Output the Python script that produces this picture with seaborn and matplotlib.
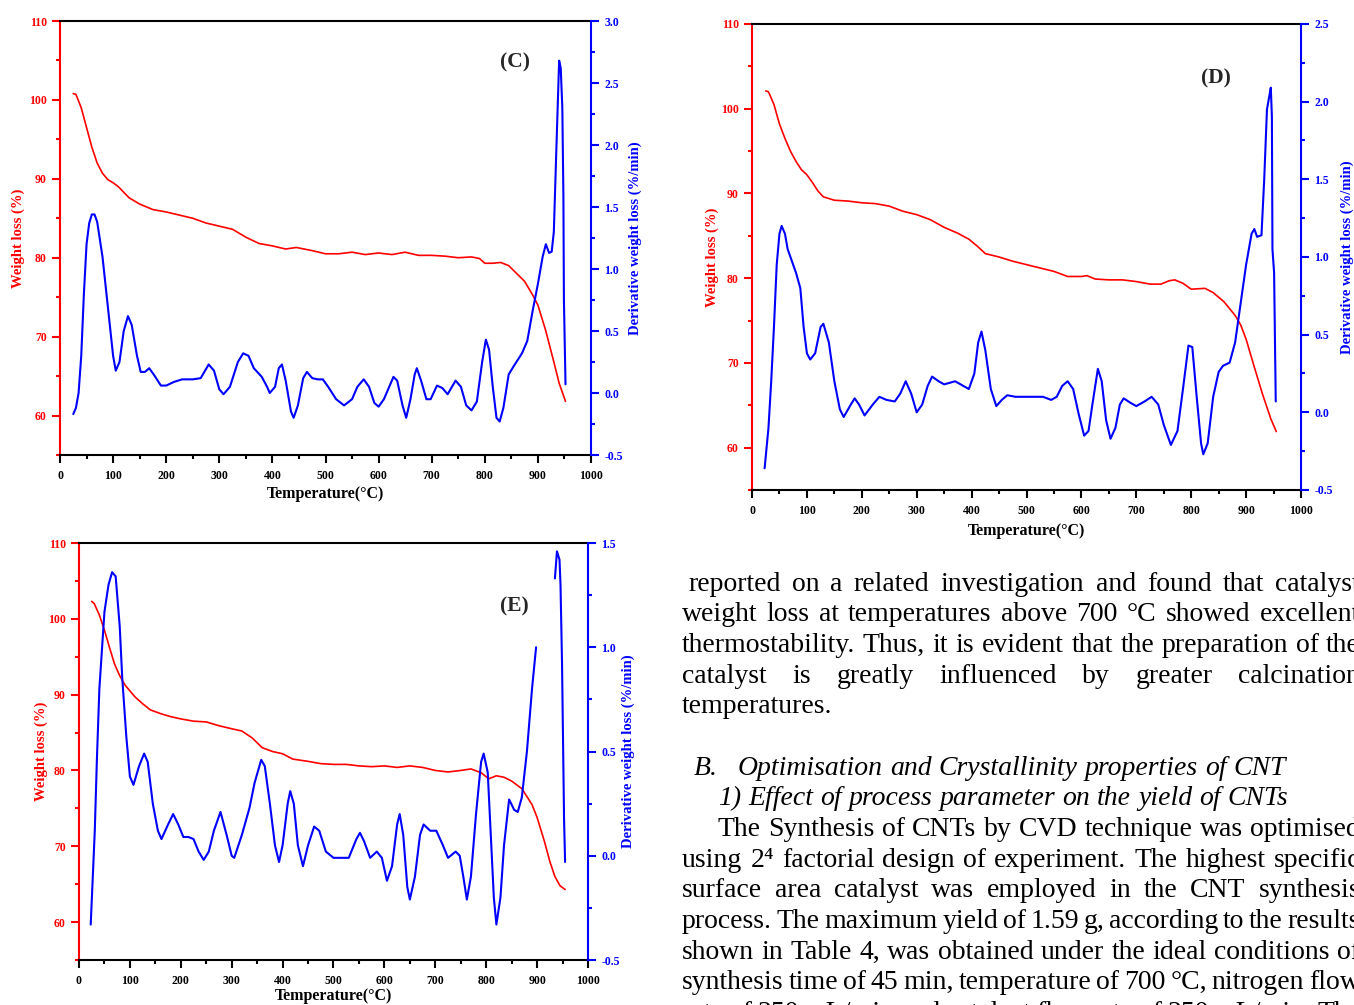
import numpy as np
import pandas as pd
import matplotlib
matplotlib.use("Agg")
import matplotlib.pyplot as plt
import seaborn as sns
from matplotlib.ticker import MultipleLocator

# ---------------- data ----------------
# Panel C
C_T_w = [25, 30, 40, 50, 60, 70, 80, 90, 100, 110,
         120, 130, 150, 175, 200, 225, 250, 275, 300, 325,
         350, 375, 400, 425, 445, 475, 500, 525, 550, 575,
         600, 625, 650, 675, 700, 725, 750, 775, 790, 800,
         815, 830, 845, 860, 875, 890, 900, 915, 930, 940, 952]
C_W = [100.8, 100.7, 99.0, 96.5, 94.0, 92.0, 90.7, 89.9, 89.5, 89.0,
       88.3, 87.6, 86.8, 86.1, 85.8, 85.4, 85.0, 84.4, 84.0, 83.6,
       82.6, 81.8, 81.5, 81.1, 81.3, 80.9, 80.5, 80.5, 80.7, 80.4,
       80.6, 80.4, 80.7, 80.3, 80.3, 80.2, 80.0, 80.1, 79.9, 79.3,
       79.3, 79.4, 79.0, 78.0, 77.0, 75.3, 74.0, 70.7, 66.8, 64.1, 61.8]
C_T_d = [25, 30, 35, 40, 45, 50, 55, 60, 65, 70,
         80, 90, 100, 105, 112, 120, 128, 135, 145, 152,
         160, 168, 178, 190, 200, 215, 230, 250, 265, 280,
         290, 300, 308, 320, 335, 345, 355, 365, 380, 390,
         395, 405, 412, 418, 425, 435, 440, 448, 458, 465,
         475, 485, 495, 505, 520, 535, 550, 560, 572, 582,
         592, 600, 610, 620, 628, 635, 645, 652, 660, 668,
         672, 680, 690, 698, 710, 720, 730, 745, 755, 765,
         775, 785, 795, 802, 808, 815, 822, 828, 835, 845,
         855, 870, 880, 890, 900, 909, 915, 921, 926, 930,
         935, 940, 943, 946, 948, 949, 952]
C_D = [-0.17, -0.12, 0.0, 0.3, 0.8, 1.2, 1.37, 1.44, 1.44, 1.38,
       1.1, 0.7, 0.3, 0.18, 0.25, 0.5, 0.62, 0.55, 0.3, 0.17,
       0.17, 0.2, 0.14, 0.06, 0.06, 0.09, 0.11, 0.11, 0.12, 0.23,
       0.18, 0.03, -0.01, 0.05, 0.25, 0.32, 0.3, 0.2, 0.13, 0.05,
       0.0, 0.05, 0.2, 0.23, 0.1, -0.15, -0.2, -0.1, 0.12, 0.17,
       0.12, 0.11, 0.11, 0.05, -0.05, -0.1, -0.05, 0.05, 0.11, 0.05,
       -0.08, -0.11, -0.05, 0.05, 0.13, 0.1, -0.1, -0.2, -0.05, 0.15,
       0.2, 0.1, -0.05, -0.05, 0.06, 0.04, -0.01, 0.1, 0.05, -0.1,
       -0.14, -0.07, 0.25, 0.43, 0.35, 0.05, -0.2, -0.23, -0.12, 0.15,
       0.22, 0.32, 0.42, 0.66, 0.88, 1.1, 1.2, 1.13, 1.14, 1.3,
       2.0, 2.68, 2.62, 2.3, 1.6, 0.75, 0.07]

# Panel D
D_T_w = [25, 30, 40, 50, 60, 70, 80, 90, 100, 110,
         120, 130, 150, 175, 200, 225, 250, 275, 300, 325,
         350, 375, 395, 410, 425, 450, 475, 500, 525, 550,
         575, 600, 610, 625, 650, 675, 700, 725, 745, 760,
         770, 785, 800, 825, 840, 860, 880, 890, 900, 915,
         930, 945, 955]
D_W = [102.1, 102.0, 100.5, 98.2, 96.5, 95.0, 93.8, 92.8, 92.2, 91.3,
       90.3, 89.6, 89.2, 89.1, 88.9, 88.8, 88.5, 87.9, 87.5, 86.9,
       86.0, 85.3, 84.6, 83.8, 82.9, 82.5, 82.0, 81.6, 81.2, 80.8,
       80.2, 80.2, 80.3, 79.9, 79.8, 79.8, 79.6, 79.3, 79.3, 79.7,
       79.8, 79.4, 78.7, 78.8, 78.3, 77.2, 75.6, 74.5, 72.8, 69.5,
       66.3, 63.4, 61.9]
D_T_d = [23, 30, 35, 40, 45, 50, 54, 60, 65, 70,
         80, 88, 94, 100, 106, 115, 125, 130, 140, 150,
         160, 167, 180, 187, 195, 205, 220, 232, 245, 260,
         270, 280, 290, 300, 310, 320, 328, 340, 350, 370,
         385, 395, 405, 412, 418, 425, 435, 445, 455, 465,
         480, 500, 520, 530, 545, 555, 565, 575, 585, 595,
         605, 613, 620, 630, 637, 645, 653, 662, 670, 677,
         690, 700, 715, 728, 740, 750, 763, 775, 785, 795,
         802, 810, 818, 822, 830, 840, 850, 858, 870, 880,
         890, 900, 910, 915, 920, 928, 933, 938, 942, 945,
         947, 948, 951, 954]
D_D = [-0.36, -0.1, 0.2, 0.55, 0.95, 1.15, 1.2, 1.15, 1.05, 1.0,
       0.9, 0.8, 0.55, 0.38, 0.34, 0.38, 0.55, 0.57, 0.45, 0.2,
       0.02, -0.03, 0.05, 0.09, 0.05, -0.02, 0.05, 0.1, 0.08, 0.07,
       0.12, 0.2, 0.12, 0.0, 0.05, 0.17, 0.23, 0.2, 0.18, 0.2,
       0.17, 0.15, 0.25, 0.45, 0.52, 0.4, 0.15, 0.04, 0.08, 0.11,
       0.1, 0.1, 0.1, 0.1, 0.08, 0.1, 0.17, 0.2, 0.15, -0.01,
       -0.15, -0.12, 0.05, 0.28, 0.2, -0.05, -0.17, -0.1, 0.05, 0.09,
       0.06, 0.04, 0.07, 0.1, 0.05, -0.08, -0.21, -0.12, 0.15, 0.43,
       0.42, 0.1, -0.2, -0.27, -0.2, 0.1, 0.26, 0.3, 0.32, 0.45,
       0.7, 0.95, 1.15, 1.18, 1.13, 1.14, 1.5, 1.95, 2.03, 2.09,
       1.9, 1.05, 0.9, 0.07]

# Panel E
E_T_w = [25, 30, 40, 50, 60, 70, 80, 90, 100, 110,
         125, 140, 160, 180, 200, 225, 250, 275, 300, 320,
         340, 360, 380, 400, 420, 450, 475, 500, 525, 550,
         575, 600, 625, 650, 675, 700, 725, 750, 770, 790,
         805, 820, 835, 850, 870, 890, 900, 915, 925, 935,
         945, 955]
E_W = [102.3, 102.0, 100.5, 98.5, 96.2, 94.0, 92.5, 91.3, 90.5, 89.7,
       88.8, 88.0, 87.5, 87.1, 86.8, 86.5, 86.4, 85.9, 85.5, 85.2,
       84.3, 83.0, 82.5, 82.2, 81.5, 81.2, 80.9, 80.8, 80.8, 80.6,
       80.5, 80.6, 80.4, 80.6, 80.4, 80.0, 79.8, 80.0, 80.2, 79.7,
       78.9, 79.3, 79.1, 78.6, 77.6, 75.5, 73.8, 70.5, 68.0, 66.0,
       64.8, 64.3]
E_T_d1 = [23, 28, 31, 35, 40, 50, 58, 65, 72, 80,
          85, 93, 100, 107, 118, 128, 135, 145, 155, 162,
          175, 185, 195, 205, 215, 225, 235, 245, 255, 265,
          278, 290, 300, 305, 320, 335, 345, 358, 365, 375,
          385, 393, 400, 410, 415, 422, 430, 440, 450, 462,
          472, 485, 500, 515, 530, 545, 552, 560, 572, 585,
          595, 605, 615, 625, 630, 637, 645, 650, 660, 670,
          677, 690, 702, 715, 725, 740, 748, 755, 762, 770,
          780, 790, 795, 803, 810, 815, 820, 828, 835, 845,
          855, 862, 870, 880, 890, 898]
E_D1 = [-0.33, -0.05, 0.12, 0.45, 0.8, 1.17, 1.3, 1.36, 1.34, 1.1,
        0.85, 0.57, 0.38, 0.34, 0.43, 0.49, 0.45, 0.25, 0.12, 0.08,
        0.15, 0.2, 0.15, 0.09, 0.09, 0.08, 0.02, -0.02, 0.02, 0.12,
        0.21, 0.1, 0.0, -0.01, 0.1, 0.23, 0.35, 0.46, 0.43, 0.25,
        0.05, -0.03, 0.05, 0.25, 0.31, 0.25, 0.05, -0.05, 0.05, 0.14,
        0.12, 0.02, -0.01, -0.01, -0.01, 0.08, 0.11, 0.07, -0.01, 0.02,
        -0.01, -0.12, -0.05, 0.15, 0.2, 0.1, -0.15, -0.21, -0.1, 0.1,
        0.15, 0.12, 0.12, 0.05, -0.01, 0.02, 0.0, -0.1, -0.21, -0.1,
        0.2, 0.45, 0.49, 0.4, 0.05, -0.2, -0.33, -0.2, 0.05, 0.27,
        0.22, 0.21, 0.28, 0.5, 0.8, 1.0]
E_T_d2 = [935, 939, 944, 946, 949, 953, 955]
E_D2 = [1.33, 1.46, 1.42, 1.3, 0.92, 0.17, -0.03]

X_TICKS = [0, 100, 200, 300, 400, 500, 600, 700, 800, 900, 1000]
W_TICKS = [60, 70, 80, 90, 100, 110]
C_R_TICKS = [-0.5, 0.0, 0.5, 1.0, 1.5, 2.0, 2.5, 3.0]
D_R_TICKS = [-0.5, 0.0, 0.5, 1.0, 1.5, 2.0, 2.5]
E_R_TICKS = [-0.5, 0.0, 0.5, 1.0, 1.5]

PARA1 = [" reported on a related investigation and found that catalyst",
         "weight loss at temperatures above 700 °C showed excellent",
         "thermostability. Thus, it is evident that the preparation of the",
         "catalyst is greatly influenced by greater calcination",
         "temperatures."]
HEAD_B = ("B.", "Optimisation and Crystallinity properties of CNT")
HEAD_1 = "1) Effect of process parameter on the yield of CNTs"
PARA2 = ["The Synthesis of CNTs by CVD technique was optimised",
         "using 2\u2074 factorial design of experiment. The highest specific",
         "surface area catalyst was employed in the CNT synthesis",
         "process. The maximum yield of 1.59 g, according to the results",
         "shown in Table 4, was obtained under the ideal conditions of",
         "synthesis time of 45 min, temperature of 700 °C, nitrogen flow",
         "rate of 250 mL/min and catalyst flow rate of 250 mL/min. The"]

for a, b in [(C_T_w, C_W), (C_T_d, C_D), (D_T_w, D_W), (D_T_d, D_D),
             (E_T_w, E_W), (E_T_d1, E_D1), (E_T_d2, E_D2)]:
    assert len(a) == len(b), (len(a), len(b))

# ---------------- style ----------------
sns.set_style("ticks")
plt.rcParams['font.family'] = ['Liberation Serif', 'DejaVu Serif']
plt.rcParams['axes.linewidth'] = 1.5

W, H = 1354, 1005
fig = plt.figure(figsize=(W / 100, H / 100), dpi=100)
fig.patch.set_facecolor("white")

RED = "#ff0000"
BLUE = "#0000ff"
SPW = 1.5


def px_rect(l, t, r, b):
    return [l / W, 1 - b / H, (r - l) / W, (b - t) / H]


def panel(rect, tw, wl, dsegs, rlim, rticks, tag, tagxy, lx, rx, xly):
    ax = fig.add_axes(px_rect(*rect))
    ax2 = ax.twinx()
    df = pd.DataFrame({"T": tw, "W": wl})
    sns.lineplot(data=df, x="T", y="W", ax=ax, color=RED, linewidth=1.2,
                 estimator=None, sort=False)
    for td, dd in dsegs:
        d2 = pd.DataFrame({"T": td, "D": dd})
        sns.lineplot(data=d2, x="T", y="D", ax=ax2, color=BLUE, linewidth=1.5,
                     estimator=None, sort=False)
    ax.set_xlim(0, 1000)
    ax.set_ylim(55, 110)
    ax2.set_ylim(*rlim)

    # spines
    for s in ["left", "top", "bottom", "right"]:
        ax.spines[s].set_linewidth(SPW)
        ax2.spines[s].set_linewidth(SPW)
    ax.spines["left"].set_color(RED)
    ax.spines["top"].set_color("black")
    ax.spines["bottom"].set_color("black")
    ax.spines["right"].set_visible(False)
    ax2.spines["right"].set_color(BLUE)
    for s in ["left", "top", "bottom"]:
        ax2.spines[s].set_visible(False)

    # x ticks
    ax.set_xticks(X_TICKS)
    ax.set_xticklabels([str(v) for v in X_TICKS], fontweight="bold",
                       fontsize=8.5, color="black")
    ax.xaxis.set_minor_locator(MultipleLocator(50))
    ax.tick_params(axis="x", which="major", direction="out", length=5.5,
                   width=SPW, color="black", pad=5)
    ax.tick_params(axis="x", which="minor", direction="out", length=3,
                   width=SPW, color="black")
    # left ticks
    ax.set_yticks(W_TICKS)
    ax.set_yticklabels([str(v) for v in W_TICKS], fontweight="bold",
                       fontsize=8.5, color=RED)
    ax.yaxis.set_minor_locator(MultipleLocator(5))
    ax.tick_params(axis="y", which="major", direction="out", length=5.5,
                   width=SPW, color=RED, pad=4)
    ax.tick_params(axis="y", which="minor", direction="out", length=3,
                   width=SPW, color=RED)
    # right ticks
    ax2.set_yticks(rticks)
    ax2.set_yticklabels([f"{v:.1f}" for v in rticks], fontweight="bold",
                        fontsize=8.5, color=BLUE)
    ax2.yaxis.set_minor_locator(MultipleLocator(0.25))
    ax2.tick_params(axis="y", which="major", direction="out", length=5.5,
                    width=SPW, color=BLUE, pad=4)
    ax2.tick_params(axis="y", which="minor", direction="out", length=3,
                    width=SPW, color=BLUE)

    # labels
    ax.set_xlabel("Temperature(°C)", fontweight="bold", fontsize=11.5,
                  color="black")
    ax.xaxis.set_label_coords(0.5, xly)
    ax.xaxis.label.set_va("center")
    ax.set_ylabel("Weight loss (%)", fontweight="bold", fontsize=10.5,
                  color=RED)
    ax.yaxis.set_label_coords(lx, 0.5)
    ax.yaxis.label.set_va("center")
    ax2.set_ylabel("Derivative weight loss (%/min)", fontweight="bold",
                   fontsize=10.5, color=BLUE)
    ax2.yaxis.set_label_coords(rx, 0.5)
    ax2.yaxis.label.set_va("center")

    fig.text(tagxy[0] / W, 1 - tagxy[1] / H, tag, fontsize=15.5,
             fontweight="bold", ha="center", va="center")
    return ax, ax2


panel((60, 21, 591, 455), C_T_w, C_W, [(C_T_d, C_D)], (-0.5, 3.0), C_R_TICKS,
      "(C)", (515, 62), -0.079, 1.083, -0.09)
panel((752, 24, 1301, 490), D_T_w, D_W, [(D_T_d, D_D)], (-0.5, 2.5), D_R_TICKS,
      "(D)", (1216, 78), -0.073, 1.084, -0.088)
panel((79, 543, 588, 960), E_T_w, E_W, [(E_T_d1, E_D1), (E_T_d2, E_D2)],
      (-0.5, 1.5), E_R_TICKS, "(E)", (514, 606), -0.075, 1.079, -0.086)

# ---------------- body text ----------------
R = fig.canvas.get_renderer()


def text_width(s, fs, style="normal"):
    t = fig.text(0, 0, s, fontsize=fs, style=style)
    w = t.get_window_extent(renderer=R).width
    t.remove()
    return w


base_fs = 18
nat = text_width(PARA1[2], base_fs)
FS = base_fs * 674.0 / nat


def place_line(s, x0, yc, x1=None, style="normal"):
    words = s.split()
    objs = [fig.text(0, 0, w, fontsize=FS, style=style, ha="left",
                     va="baseline", color="black") for w in words]
    widths = [o.get_window_extent(renderer=R).width for o in objs]
    if x1 is not None and len(words) > 1:
        gap = (x1 - x0 - sum(widths)) / (len(words) - 1)
    else:
        gap = text_width("a a", FS, style) - text_width("aa", FS, style)
    x = x0
    ybase = yc + 8
    for o, w in zip(objs, widths):
        o.set_position((x / W, 1 - ybase / H))
        x += w + gap


RIGHT = 1360
p1_y = [583, 613, 644, 675, 705]
place_line(PARA1[0], 688, p1_y[0], RIGHT)
place_line(PARA1[1], 682, p1_y[1], RIGHT)
place_line(PARA1[2], 682, p1_y[2], RIGHT)
place_line(PARA1[3], 682, p1_y[3], RIGHT)
place_line(PARA1[4], 682, p1_y[4])

place_line(HEAD_B[0], 694, 767, style="italic")
place_line(HEAD_B[1], 738, 767, style="italic")
place_line(HEAD_1, 718, 797, style="italic")

p2_y = [828, 859, 889, 920, 951, 981, 1012]
place_line(PARA2[0], 718, p2_y[0], RIGHT)
for s, y in zip(PARA2[1:], p2_y[1:]):
    place_line(s, 682, y, RIGHT)

fig.savefig("out.png", dpi=100, facecolor="white")
